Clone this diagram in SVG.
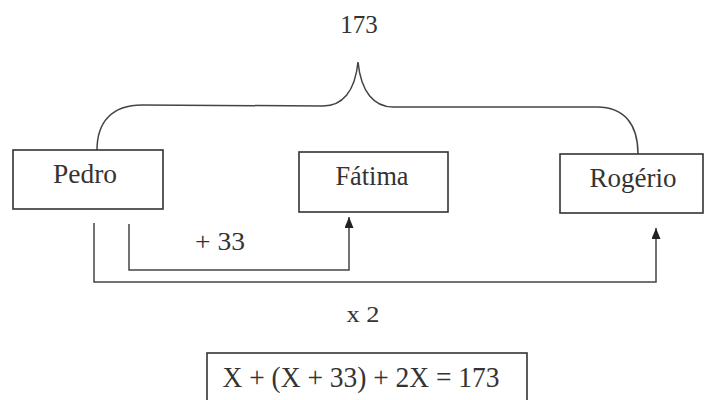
<svg xmlns="http://www.w3.org/2000/svg" width="705" height="400" viewBox="0 0 705 400">
<style>
.box{fill:#fff;stroke:#333;stroke-width:1.6}
.t{font-family:"Liberation Serif","Times New Roman",serif;fill:#333;text-anchor:middle}
.c{fill:none;stroke:#444;stroke-width:1.5}
</style>
<defs>
<marker id="ah" viewBox="0 0 10 10" refX="10" refY="5" markerWidth="11" markerHeight="9" markerUnits="userSpaceOnUse" orient="auto" preserveAspectRatio="none">
<path d="M0,0 L10,5 L0,10 Z" fill="#222"/>
</marker>
</defs>
<rect width="705" height="400" fill="#fff"/>
<text class="t" x="359" y="33" font-size="25">173</text>
<g id="connectors">
<path class="c" d="M97,150 C97,122 112,105 142,105 L323,106 C342,106 355,92 358,62 C361,92 374,107 393,107 L597,107 C624,107 638,124 638,154"/>
<path class="c" d="M129,224 L129,270 L349,270 L349,217" marker-end="url(#ah)"/>
<path class="c" d="M94,223 L94,282 L656,282 L656,228" marker-end="url(#ah)"/>
</g>
<g id="pedro">
<rect class="box" x="13" y="150" width="150" height="59"/>
<text class="t" x="85" y="183" font-size="28" textLength="64" lengthAdjust="spacingAndGlyphs">Pedro</text>
</g>
<g id="fatima">
<rect class="box" x="299" y="152" width="149" height="60"/>
<text class="t" x="372" y="185" font-size="28" textLength="73" lengthAdjust="spacingAndGlyphs">Fátima</text>
</g>
<g id="rogerio">
<rect class="box" x="560" y="154" width="143" height="59"/>
<text class="t" x="633" y="187" font-size="28" textLength="87" lengthAdjust="spacingAndGlyphs">Rogério</text>
</g>
<text class="t" x="220" y="250" font-size="26" textLength="50" lengthAdjust="spacingAndGlyphs">+ 33</text>
<text class="t" x="363" y="322" font-size="24" textLength="33" lengthAdjust="spacingAndGlyphs">x 2</text>
<g id="equation">
<rect class="box" x="207" y="353" width="320" height="52"/>
<text class="t" x="361" y="387" font-size="30" textLength="277" lengthAdjust="spacingAndGlyphs">X + (X + 33) + 2X = 173</text>
</g>
</svg>
